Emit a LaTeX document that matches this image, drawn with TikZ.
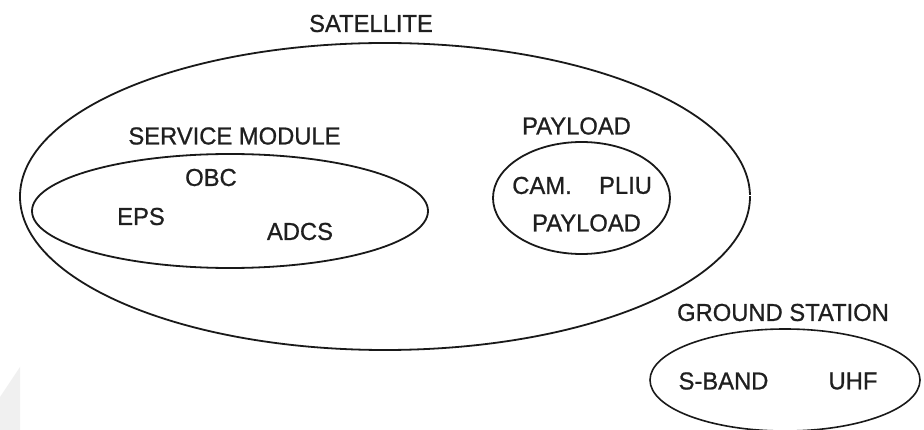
\documentclass[tikz,border=0pt]{standalone}
\usepackage{fontspec}
\setmainfont{Liberation Sans}
\newfontfamily\lblfont[FakeBold=0.8,FakeStretch=0.97]{Liberation Sans}
\usetikzlibrary{shapes.geometric}
\begin{document}
\begin{tikzpicture}[x=1pt,y=-1pt,
  oval/.style={ellipse,draw=black!90,line width=1.8pt,inner sep=0pt},
  lbl/.style={inner sep=0pt,text=black!88,font=\lblfont\fontsize{24.5}{28}\selectfont}]
\useasboundingbox (0,0) rectangle (924,430);
\fill[white] (0,0) rectangle (924,430);
% faint watermark in the lower left corner
\fill[black!6] (20,367) -- (0,397) -- (0,430) -- (20,430) -- cycle;
% sets
\node[oval,minimum width=730pt,minimum height=307pt] (sat) at (385,196.5) {};
\node[oval,minimum width=396pt,minimum height=114pt] (svc) at (230,211) {};
\node[oval,minimum width=177pt,minimum height=112pt] (pay) at (581.5,198) {};
\node[oval,line width=1.6pt,minimum width=270pt,minimum height=102pt] (gnd) at (785,380) {};
% small break in the satellite outline
\draw[white,line width=1.2pt] (744,195.5) -- (756,195.5);
% labels
\node[lbl] (tsat) at (371,23.5) {SATELLITE};
\node[lbl] (tsvc) at (234.5,136) {SERVICE MODULE};
\node[lbl] (obc) at (211,177.5) {OBC};
\node[lbl] (eps) at (141,216.5) {EPS};
\node[lbl] (adcs) at (300,231.5) {ADCS};
\node[lbl] (tpay) at (576.5,126) {PAYLOAD};
\node[lbl] (cam) at (542,185.5) {CAM.};
\node[lbl] (pliu) at (625.5,185.5) {PLIU};
\node[lbl] (ipay) at (586.5,223) {PAYLOAD};
\node[lbl] (tgnd) at (783,312.5) {GROUND STATION};
\node[lbl] (sband) at (723.5,381) {S-BAND};
\node[lbl] (uhf) at (853,381) {UHF};
\end{tikzpicture}
\end{document}
